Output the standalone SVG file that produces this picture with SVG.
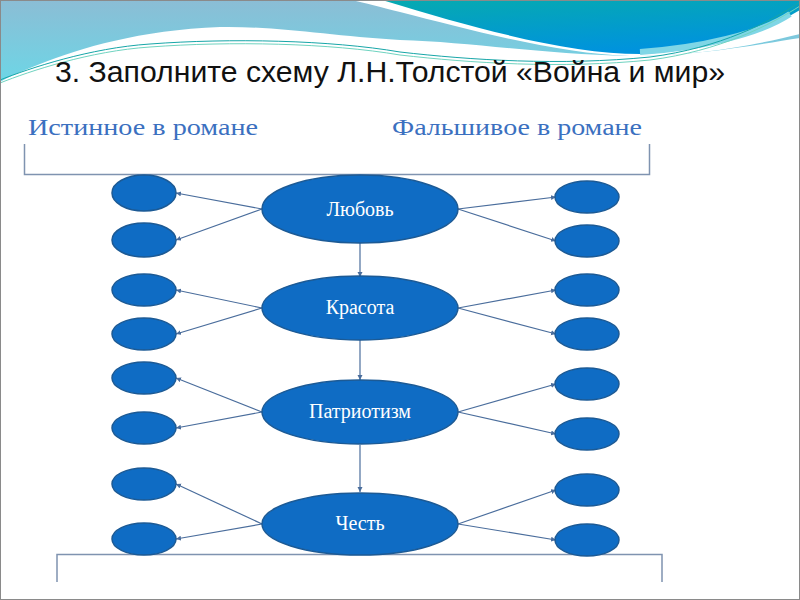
<svg xmlns="http://www.w3.org/2000/svg" width="800" height="600" viewBox="0 0 800 600">
<defs>
<linearGradient id="lb" x1="0" y1="0" x2="0" y2="1">
<stop offset="0" stop-color="#8bbdd5"/>
<stop offset="1" stop-color="#6dd6e6"/>
</linearGradient>
<linearGradient id="teal" x1="0" y1="0" x2="0.4" y2="1">
<stop offset="0" stop-color="#06aab0"/>
<stop offset="1" stop-color="#0093dd"/>
</linearGradient>
<marker id="ah" markerUnits="userSpaceOnUse" markerWidth="6" markerHeight="6" refX="5" refY="2.5" orient="auto">
<path d="M0,0 L5,2.5 L0,5 z" fill="#4a6d9c"/>
</marker>
<style>
.big{fill:#0f6cc4;stroke:#1c5a95;stroke-width:1.5}
.sm{fill:#0f6cc4;stroke:#1c5a95;stroke-width:1.5}
.lbl{font-family:"Liberation Serif","DejaVu Serif",serif;font-size:20px;fill:#ffffff;text-anchor:middle}
.head{font-family:"Liberation Serif","DejaVu Serif",serif;font-size:24px;fill:#3b70c0}
.con line{stroke:#4a6d9c;stroke-width:1.2;marker-end:url(#ah)}
.br{fill:none;stroke:#7f93b0;stroke-width:1.5}
</style>
</defs>
<rect x="0" y="0" width="800" height="600" fill="#ffffff"/>
<g id="decoration">
<path d="M0,0 H800 V38 C760,44 700,56 630,56 C540,54 470,42 400,40 C330,36 280,26 220,27 C140,30 80,48 40,64 C25,70 10,76 0,82 Z" fill="url(#lb)"/>
<path d="M352,0 H800 V34 C760,44 700,56 630,56 C560,54 470,30 400,12 C380,7 365,3 352,0 Z" fill="#ffffff"/>
<path d="M382,0 H800 V10 C760,34 700,52 640,54 C570,54 480,30 382,0 Z" fill="url(#teal)"/>
<path d="M790,14 C760,34 700,48 640,52" fill="none" stroke="#7fd6e6" stroke-width="6"/>
<path d="M0,80 C30,68 90,48 150,44 C230,38 330,40 400,52 C470,60 560,66 650,57 C720,48 770,22 800,2" fill="none" stroke="#17a6a8" stroke-width="1"/>
<path d="M0,83 C30,71 90,51 150,47 C230,41 330,43 400,55 C470,63 560,69 650,60 C720,51 770,25 800,6" fill="none" stroke="#6fd3c0" stroke-width="1"/>
</g>
<text x="55" y="82" font-family="'Liberation Sans','DejaVu Sans',sans-serif" font-size="30" fill="#111111" textLength="670" lengthAdjust="spacingAndGlyphs">3. Заполните схему Л.Н.Толстой «Война и мир»</text>
<text class="head" x="28" y="135" textLength="230" lengthAdjust="spacingAndGlyphs">Истинное в романе</text>
<text class="head" x="392" y="135" textLength="250" lengthAdjust="spacingAndGlyphs">Фальшивое в романе</text>
<path class="br" d="M24.5,144 V174.5 H649.5 V144"/>
<path class="br" d="M57,582 V554.5 H662 V582"/>
<g id="connectors" class="con">
<line x1="262" y1="209" x2="176" y2="193"/>
<line x1="262" y1="209" x2="176" y2="240"/>
<line x1="458" y1="209" x2="556" y2="197"/>
<line x1="458" y1="209" x2="556" y2="241"/>
<line x1="262" y1="308" x2="176" y2="290"/>
<line x1="262" y1="308" x2="176" y2="334"/>
<line x1="458" y1="308" x2="556" y2="290"/>
<line x1="458" y1="308" x2="556" y2="334"/>
<line x1="262" y1="412" x2="176" y2="378"/>
<line x1="262" y1="412" x2="176" y2="428"/>
<line x1="458" y1="412" x2="556" y2="384"/>
<line x1="458" y1="412" x2="556" y2="434"/>
<line x1="262" y1="524" x2="176" y2="484"/>
<line x1="262" y1="524" x2="176" y2="539"/>
<line x1="458" y1="524" x2="556" y2="490"/>
<line x1="458" y1="524" x2="556" y2="540"/>
<line x1="360" y1="242" x2="360" y2="277"/>
<line x1="360" y1="340" x2="360" y2="380"/>
<line x1="360" y1="445" x2="360" y2="492"/>
</g>
<g id="left-nodes">
<ellipse id="l1" class="sm" cx="144" cy="193" rx="32" ry="18"/>
<ellipse id="l2" class="sm" cx="144" cy="240" rx="32" ry="17"/>
<ellipse id="l3" class="sm" cx="144" cy="290" rx="32" ry="16"/>
<ellipse id="l4" class="sm" cx="144" cy="334" rx="32" ry="16"/>
<ellipse id="l5" class="sm" cx="144" cy="378" rx="32" ry="16"/>
<ellipse id="l6" class="sm" cx="144" cy="428" rx="32" ry="16"/>
<ellipse id="l7" class="sm" cx="144" cy="484" rx="32" ry="16"/>
<ellipse id="l8" class="sm" cx="144" cy="539" rx="32" ry="16"/>
</g>
<g id="right-nodes">
<ellipse id="r1" class="sm" cx="587" cy="197" rx="32" ry="16"/>
<ellipse id="r2" class="sm" cx="587" cy="241" rx="32" ry="16"/>
<ellipse id="r3" class="sm" cx="587" cy="290" rx="32" ry="16"/>
<ellipse id="r4" class="sm" cx="587" cy="334" rx="32" ry="16"/>
<ellipse id="r5" class="sm" cx="587" cy="384" rx="32" ry="16"/>
<ellipse id="r6" class="sm" cx="587" cy="434" rx="32" ry="16"/>
<ellipse id="r7" class="sm" cx="587" cy="490" rx="32" ry="16"/>
<ellipse id="r8" class="sm" cx="587" cy="540" rx="32" ry="16"/>
</g>
<g id="love"><ellipse class="big" cx="360" cy="209" rx="98" ry="34"/><text class="lbl" x="360" y="216">Любовь</text></g>
<g id="beauty"><ellipse class="big" cx="360" cy="308" rx="98" ry="32"/><text class="lbl" x="360" y="314">Красота</text></g>
<g id="patriotism"><ellipse class="big" cx="360" cy="412" rx="98" ry="32"/><text class="lbl" x="360" y="418">Патриотизм</text></g>
<g id="honour"><ellipse class="big" cx="360" cy="524" rx="98" ry="31"/><text class="lbl" x="360" y="530">Честь</text></g>
<rect x="0.5" y="0.5" width="799" height="599" fill="none" stroke="#8a8a8a" stroke-width="1"/>
</svg>
